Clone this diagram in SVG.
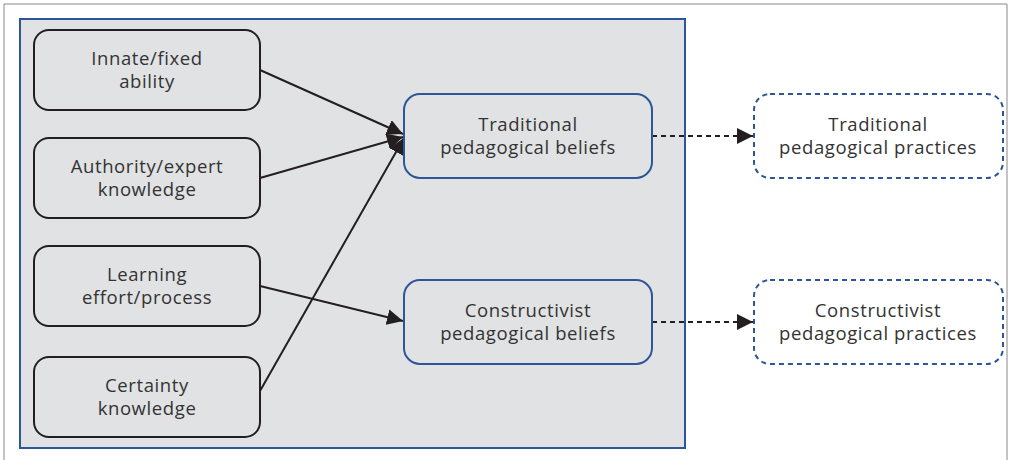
<svg xmlns="http://www.w3.org/2000/svg" width="1009" height="460" viewBox="0 0 1009 460">
<defs>
<style>
.t{font-family:"Open Sans","Liberation Sans",sans-serif;font-size:18.5px;letter-spacing:0.6px;fill:#333;text-anchor:middle}
.lb{fill:#e1e2e4;stroke:#231f20;stroke-width:2}
.mb{fill:#e1e2e4;stroke:#2e5597;stroke-width:2}
.rb{fill:#fff;stroke:#2e5597;stroke-width:2;stroke-dasharray:5 4}
.c{stroke:#231f20;stroke-width:2;fill:none}
.d{stroke:#231f20;stroke-width:2;fill:none;stroke-dasharray:5 4}
</style>
<marker id="ah2" viewBox="0 0 10 10" refX="10" refY="5" markerWidth="8" markerHeight="8" orient="auto" markerUnits="strokeWidth"><path d="M0,0 L10,5 L0,10 z" fill="#231f20"/></marker>
</defs>
<rect width="1009" height="460" fill="#fff"/>
<path d="M4,460 V4 H1007 V460" fill="none" stroke="#888" stroke-width="1"/>
<rect id="panel" x="20" y="19" width="665" height="429" fill="#e1e2e4" stroke="#2e5597" stroke-width="2"/>
<g id="connectors">
<line class="c" x1="260" y1="70" x2="403" y2="134" marker-end="url(#ah2)"/>
<line class="c" x1="260" y1="178" x2="403" y2="137" marker-end="url(#ah2)"/>
<line class="c" x1="260" y1="391" x2="404" y2="138" marker-end="url(#ah2)"/>
<line class="c" x1="260" y1="286" x2="403" y2="321" marker-end="url(#ah2)"/>
<line class="d" x1="652" y1="136" x2="753" y2="136" marker-end="url(#ah2)"/>
<line class="d" x1="652" y1="322" x2="753" y2="322" marker-end="url(#ah2)"/>
</g>
<g id="n1"><rect class="lb" x="34" y="30" width="226" height="80" rx="15"/><text class="t" x="147" y="65">Innate/fixed</text><text class="t" x="147" y="88">ability</text></g>
<g id="n2"><rect class="lb" x="34" y="138" width="226" height="80" rx="15"/><text class="t" x="147" y="173">Authority/expert</text><text class="t" x="147" y="196">knowledge</text></g>
<g id="n3"><rect class="lb" x="34" y="246" width="226" height="80" rx="15"/><text class="t" x="147" y="281">Learning</text><text class="t" x="147" y="304">effort/process</text></g>
<g id="n4"><rect class="lb" x="34" y="357" width="226" height="80" rx="15"/><text class="t" x="147" y="392">Certainty</text><text class="t" x="147" y="415">knowledge</text></g>
<g id="n5"><rect class="mb" x="404" y="94" width="248" height="84" rx="16"/><text class="t" x="528" y="131">Traditional</text><text class="t" x="528" y="154">pedagogical beliefs</text></g>
<g id="n6"><rect class="mb" x="404" y="280" width="248" height="84" rx="16"/><text class="t" x="528" y="317">Constructivist</text><text class="t" x="528" y="340">pedagogical beliefs</text></g>
<g id="n7"><rect class="rb" x="754" y="94" width="249" height="84" rx="16"/><text class="t" x="878" y="131">Traditional</text><text class="t" x="878" y="154">pedagogical practices</text></g>
<g id="n8"><rect class="rb" x="754" y="280" width="249" height="84" rx="16"/><text class="t" x="878" y="317">Constructivist</text><text class="t" x="878" y="340">pedagogical practices</text></g>
</svg>
